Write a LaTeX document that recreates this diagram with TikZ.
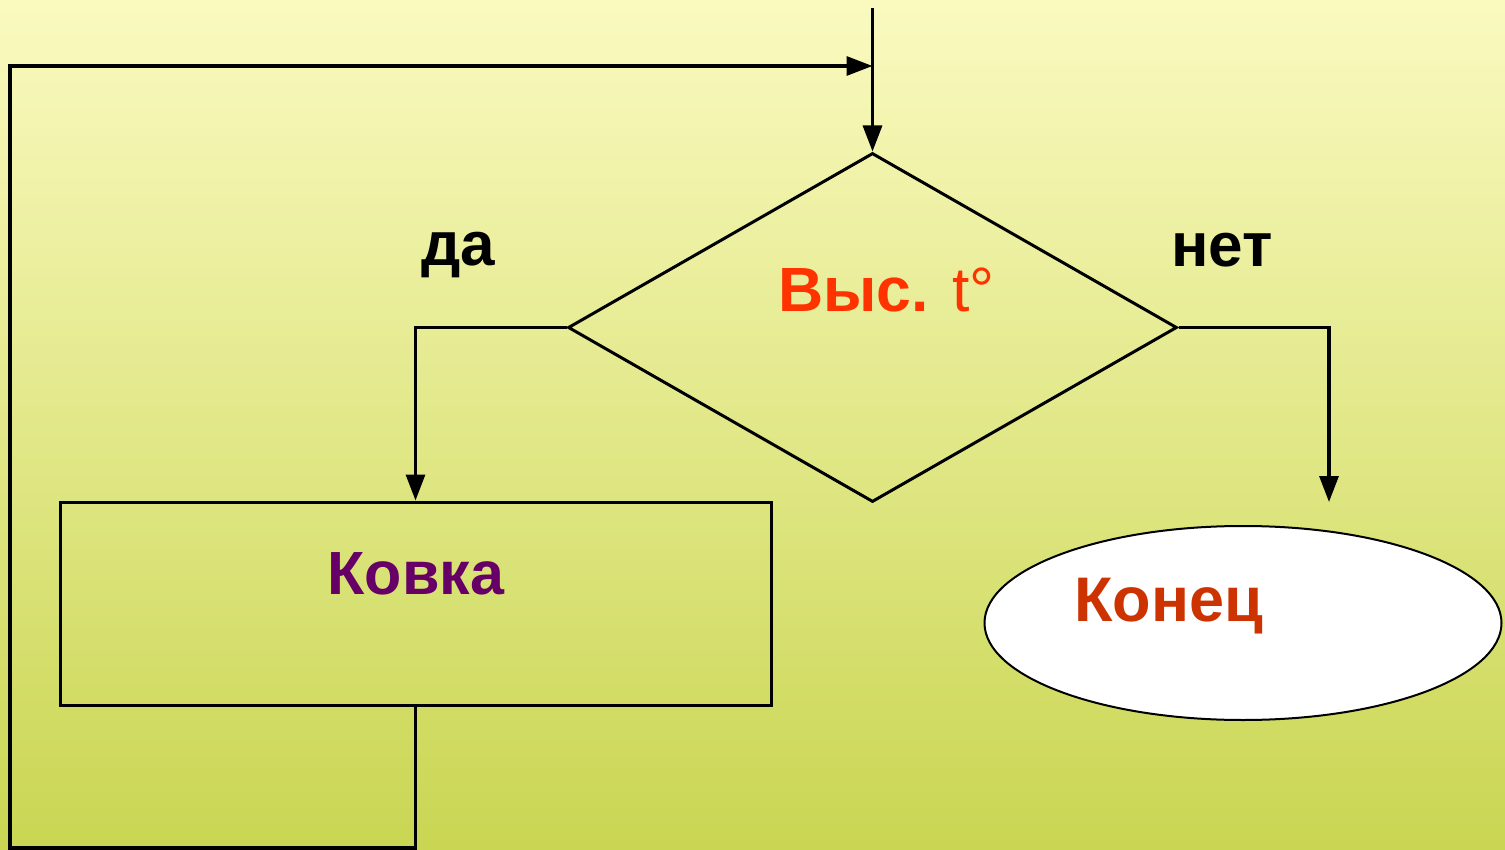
\documentclass[tikz,border=0pt]{standalone}
\usepackage{fontspec}
\setmainfont{Liberation Sans}
\usetikzlibrary{arrows.meta,shapes.geometric}
\definecolor{bgtop}{RGB}{250,250,192}
\definecolor{bgbot}{RGB}{201,214,82}
\definecolor{qred}{RGB}{255,51,0}
\definecolor{endred}{RGB}{204,51,0}
\definecolor{kpurple}{RGB}{102,0,102}
\begin{document}
\begin{tikzpicture}[x=1pt,y=-1pt,
  conn/.style={line width=3.2pt,draw=black},
  arr/.style={conn,-{Triangle[width=19pt,length=26pt]}},
  shapeline/.style={draw=black,line width=3pt,inner sep=0pt},
  lbl/.style={anchor=base,inner sep=0pt,font=\fontsize{62}{70}\selectfont\bfseries},
]
\shade[top color=bgtop,bottom color=bgbot] (0,0) rectangle (1505,850);
\useasboundingbox (0,0) rectangle (1505,850);

% shapes
\node[shapeline,diamond,minimum width=609pt,minimum height=349pt] (cond) at (872.5,327.5) {};
\node[shapeline,rectangle,minimum width=711pt,minimum height=203pt] (kovka) at (415.5,603.5) {};
\node[draw=black,line width=2pt,fill=white,ellipse,minimum width=517pt,minimum height=194pt,inner sep=0pt] (endn) at (1243,623) {};

% texts
\node[lbl,text=qred,font=\fontsize{62.5}{70}\selectfont] (qtext) at (886.5,312) {\textbf{Выс.} t°};
\node[lbl,text=kpurple,font=\fontsize{61}{68}\selectfont\bfseries] (ktext) at (416,594) {Ковка};
\node[lbl,text=endred,font=\fontsize{63}{72}\selectfont\bfseries] (etext) at (1168.5,621) {Конец};
\node[lbl] (yes) at (458,266) {да};
\node[lbl] (no) at (1222,267) {нет};

% coordinates
\coordinate (start) at (872.5,8);
\coordinate (tipR) at (1329,502);
\coordinate (bl) at (10,848);
\coordinate (tl) at (10,66);
\coordinate (merge) at (872.5,66);

% connectors
\draw[arr] (start) -- (cond.north);
\draw[arr] (cond.west) -| (kovka.north);
\draw[arr] (cond.east) -| (tipR);
\draw[arr,line join=miter] (kovka.south) |- (bl) -- (tl) -- (merge);
\end{tikzpicture}
\end{document}
